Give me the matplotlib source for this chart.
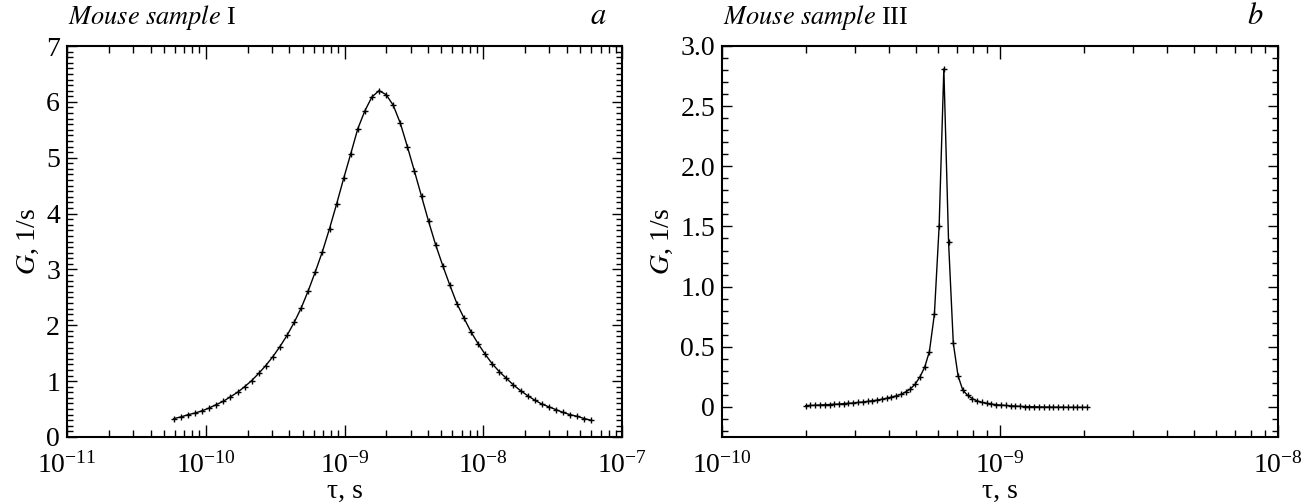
import matplotlib
matplotlib.use("Agg")
import matplotlib.pyplot as plt
from matplotlib.ticker import LogLocator, MultipleLocator, FixedLocator, FuncFormatter, NullFormatter

plt.rcParams['font.family'] = ['Liberation Serif', 'DejaVu Serif']
plt.rcParams['mathtext.fontset'] = 'stix'

# panel a: Mouse sample I  (tau given as log10 exponents)
tau_a_exp = [-10.229, -10.178, -10.127, -10.076, -10.025, -9.975, -9.924, -9.873, -9.822, -9.771,
             -9.720, -9.669, -9.618, -9.567, -9.516, -9.465, -9.414, -9.363, -9.312, -9.261,
             -9.210, -9.159, -9.108, -9.057, -9.006, -8.955, -8.904, -8.853, -8.802, -8.751,
             -8.700, -8.649, -8.598, -8.547, -8.496, -8.445, -8.394, -8.343, -8.292, -8.241,
             -8.190, -8.139, -8.088, -8.037, -7.986, -7.935, -7.884, -7.833, -7.782, -7.731,
             -7.680, -7.629, -7.578, -7.527, -7.476, -7.425, -7.374, -7.323, -7.272, -7.221]
G_a = [0.33, 0.36, 0.40, 0.43, 0.47, 0.52, 0.58, 0.64, 0.72, 0.80,
       0.90, 1.01, 1.14, 1.28, 1.44, 1.62, 1.82, 2.05, 2.31, 2.62,
       2.96, 3.32, 3.73, 4.17, 4.63, 5.07, 5.52, 5.84, 6.09, 6.20,
       6.13, 5.94, 5.62, 5.20, 4.76, 4.31, 3.86, 3.44, 3.07, 2.72,
       2.39, 2.13, 1.88, 1.67, 1.48, 1.31, 1.17, 1.05, 0.93, 0.83,
       0.74, 0.66, 0.59, 0.54, 0.49, 0.44, 0.40, 0.37, 0.33, 0.30]

# panel b: Mouse sample III
tau_b_exp = [-9.699, -9.682, -9.665, -9.648, -9.630, -9.613, -9.596, -9.579, -9.562, -9.545,
             -9.528, -9.510, -9.493, -9.476, -9.459, -9.442, -9.425, -9.408, -9.391, -9.374,
             -9.356, -9.339, -9.322, -9.305, -9.288, -9.271, -9.254, -9.236, -9.219, -9.202,
             -9.185, -9.168, -9.151, -9.134, -9.116, -9.099, -9.082, -9.065, -9.048, -9.031,
             -9.014, -8.996, -8.979, -8.962, -8.945, -8.928, -8.911, -8.894, -8.876, -8.859,
             -8.842, -8.825, -8.808, -8.791, -8.774, -8.756, -8.739, -8.722, -8.705, -8.688]
G_b = [0.010, 0.012, 0.014, 0.016, 0.018, 0.020, 0.022, 0.024, 0.027, 0.030,
       0.033, 0.037, 0.041, 0.046, 0.051, 0.057, 0.064, 0.072, 0.081, 0.092,
       0.105, 0.125, 0.150, 0.190, 0.250, 0.330, 0.460, 0.770, 1.500, 2.810,
       1.370, 0.530, 0.260, 0.140, 0.095, 0.068, 0.050, 0.038, 0.030, 0.024,
       0.019, 0.015, 0.012, 0.009, 0.007, 0.005, 0.003, 0.002, 0.001, 0.000,
       -0.001, -0.001, -0.002, -0.002, -0.002, -0.003, -0.003, -0.003, -0.003, -0.003]

xticks_a = [1e-11, 1e-10, 1e-9, 1e-8, 1e-7]
xticks_b = [1e-10, 1e-9, 1e-8]

tau_a = [10 ** e for e in tau_a_exp]
tau_b = [10 ** e for e in tau_b_exp]

fig = plt.figure(figsize=(13.11, 5.04), dpi=100)
W, H = 1311.0, 504.0
ax_a = fig.add_axes([67 / W, (H - 437) / H, 555 / W, 391 / H])
ax_b = fig.add_axes([722 / W, (H - 437) / H, 556 / W, 391 / H])

fs = 20


def style(ax, xt):
    ax.set_xscale('log')
    for s in ax.spines.values():
        s.set_linewidth(1.5)
    ax.tick_params(which='both', direction='in', top=True, right=True, labelsize=fs, width=1)
    ax.tick_params(axis='x', which='major', length=9, pad=11)
    ax.tick_params(axis='x', which='minor', length=5)
    ax.tick_params(axis='y', which='major', length=7, pad=5)
    ax.tick_params(axis='y', which='minor', length=4)
    ax.xaxis.set_major_locator(FixedLocator(xt))
    ax.xaxis.set_minor_locator(LogLocator(base=10, subs=range(2, 10), numticks=20))
    ax.xaxis.set_minor_formatter(NullFormatter())
    ax.set_xlabel('τ, s', fontsize=fs, labelpad=0)
    ax.set_ylabel('$G$, 1/s', fontsize=fs, labelpad=4)


# a
ax_a.plot(tau_a, G_a, color='black', lw=1.0, marker='+', ms=5, mew=1.0)
style(ax_a, xticks_a)
ax_a.set_xlim(1e-11, 1e-7)
ax_a.set_ylim(0, 7)
ax_a.yaxis.set_major_locator(MultipleLocator(1))
ax_a.yaxis.set_minor_locator(MultipleLocator(0.1))

# b
ax_b.plot(tau_b, G_b, color='black', lw=1.0, marker='+', ms=5, mew=1.0)
style(ax_b, xticks_b)
ax_b.set_xlim(1e-10, 1e-8)
ax_b.set_ylim(-0.25, 3.0)
ax_b.yaxis.set_major_locator(FixedLocator([0, 0.5, 1.0, 1.5, 2.0, 2.5, 3.0]))
ax_b.yaxis.set_minor_locator(MultipleLocator(0.1))
ax_b.yaxis.set_major_formatter(FuncFormatter(lambda v, p: '0' if abs(v) < 1e-9 else '%.1f' % v))

fig.text(68 / W, 1 - 17 / H, r'$\mathit{Mouse\ sample}$ I', fontsize=19, va='center', ha='left')
fig.text(607 / W, 1 - 17 / H, r'$\mathit{a}$', fontsize=22, va='center', ha='right')
fig.text(723 / W, 1 - 17 / H, r'$\mathit{Mouse\ sample}$ III', fontsize=19, va='center', ha='left')
fig.text(1263 / W, 1 - 17 / H, r'$\mathit{b}$', fontsize=22, va='center', ha='right')

fig.savefig('out.png', dpi=100)
